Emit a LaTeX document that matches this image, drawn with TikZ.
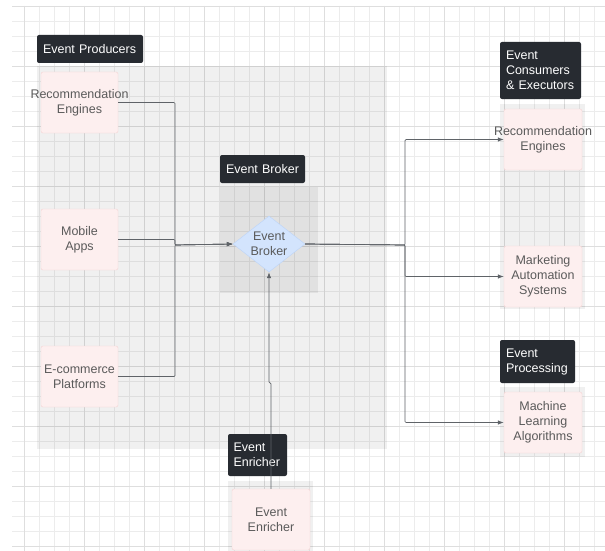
\documentclass[tikz,border=0pt]{standalone}
\usepackage{fontspec}
\setmainfont{Liberation Sans}
\usetikzlibrary{shapes.geometric,arrows.meta}
\definecolor{gridminor}{HTML}{ECECEC}
\definecolor{gridmajor}{HTML}{DEDEDE}
\definecolor{tagbg}{HTML}{272B31}
\definecolor{boxbg}{HTML}{FDEFEF}
\definecolor{boxline}{HTML}{F5D3D3}
\definecolor{dmdbg}{HTML}{D3E4FD}
\definecolor{dmdline}{HTML}{BCD4F8}
\definecolor{txtgray}{HTML}{5A5A5A}
\definecolor{wire}{HTML}{5F6368}

\begin{document}
\begin{tikzpicture}[x=1pt,y=-1pt,
  every node/.style={font=\fontsize{12.5}{15}\selectfont},
  tag/.style={fill=tagbg,text=white,rounded corners=2pt,inner xsep=6pt,inner ysep=0pt,align=left},
  group/.style={fill=black,fill opacity=0.06,inner sep=0pt},
  box/.style={draw=boxline,fill=boxbg,rounded corners=2pt,text=txtgray,align=center,inner sep=0pt,text width=77pt,minimum height=61pt},
  flow/.style={draw=wire,line width=0.7pt,rounded corners=1pt,-{Latex[length=6pt,width=4.5pt]}}]
\useasboundingbox (0,0) rectangle (605,551);
\fill[white] (0,0) rectangle (605,551);
\foreach \gx in {24,39,...,604} \draw[gridminor,line width=0.8pt] (\gx,6) -- (\gx,551);
\foreach \gy in {6,21,...,551} \draw[gridminor,line width=0.8pt] (12,\gy) -- (605,\gy);
\foreach \gx in {24,84,...,604} \draw[gridmajor,line width=0.8pt] (\gx,6) -- (\gx,551);
\foreach \gy in {6,66,...,551} \draw[gridmajor,line width=0.8pt] (12,\gy) -- (605,\gy);

\node[group,minimum width=350pt,minimum height=383pt] (prodarea) at (212,257.5) {};
\node[group,minimum width=98pt,minimum height=106pt] (brokerarea) at (269,240) {};
\node[group,minimum width=85pt,minimum height=205pt] (consarea) at (542.5,206.5) {};
\node[group,minimum width=85pt,minimum height=70pt] (procarea) at (542.5,422) {};
\node[group,minimum width=85pt,minimum height=70pt] (enrarea) at (270.5,516) {};

\node[tag,text width=94pt,minimum height=28pt] (prodtag) at (90,49) {Event Producers};
\node[tag,text width=73pt,minimum height=28pt] (brokertag) at (262.5,169) {Event Broker};
\node[tag,text width=69pt,minimum height=57pt] (constag) at (540.5,70.5) {Event\\Consumers\\\& Executors};
\node[tag,text width=63pt,minimum height=43pt] (proctag) at (537.5,361.5) {Event\\Processing};
\node[tag,text width=48pt,inner xsep=5.5pt,minimum height=42pt] (enrtag) at (257.5,455) {Event\\Enricher};

\node[box] (rp) at (79.5,102.5) {\makebox[77pt]{Recommendation}\\Engines};
\node[box] (mob) at (79.5,239.5) {Mobile\\Apps};
\node[box] (ecom) at (79.5,376.5) {E-commerce\\Platforms};
\node[box,text width=78pt] (crec) at (543,139.5) {\makebox[78pt]{Recommendation}\\Engines};
\node[box,text width=78pt] (mkt) at (543,276.5) {Marketing\\Automation\\Systems};
\node[box,text width=78pt] (ml) at (543,422.5) {Machine\\Learning\\Algorithms};
\node[box,text width=78pt] (enr) at (271,519.5) {Event\\Enricher};
\node[diamond,draw=dmdline,fill=dmdbg,text=txtgray,align=center,inner sep=0pt,aspect=1.3,minimum width=72pt,minimum height=56pt] (broker) at (269,244) {Event\\Broker};

\coordinate (ljoin) at (175,245);
\coordinate (rjoin) at (405,245);
\draw[flow] (rp.east) -| (ljoin) -- (broker.west);
\draw[flow] (mob.east) -| (ljoin) -- (broker.west);
\draw[flow] (ecom.east) -| (ljoin) -- (broker.west);
\draw[flow] (broker.east) -- (rjoin) |- (crec.west);
\draw[flow] (broker.east) -- (rjoin) |- (mkt.west);
\draw[flow] (broker.east) -- (rjoin) |- (ml.west);
\draw[flow] (enr.north) -- ++(0,-106) -| (broker.south);
\end{tikzpicture}
\end{document}
